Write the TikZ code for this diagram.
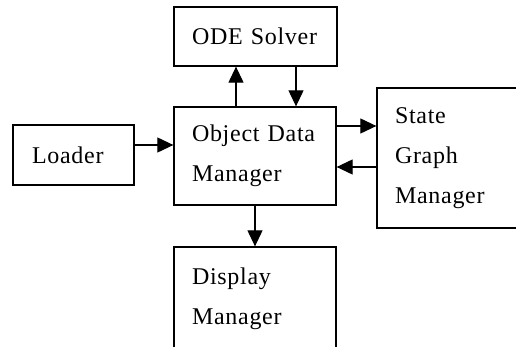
\documentclass[tikz,border=0pt]{standalone}
\usepackage{fontspec}
\setmainfont{Liberation Serif}[LetterSpace=3]
\usetikzlibrary{arrows.meta,calc}
\begin{document}
\begin{tikzpicture}[x=1pt,y=-1pt,
  box/.style={draw, line width=1.3pt, rectangle, inner xsep=18pt, inner ysep=0pt,
    align=left, font=\fontsize{24}{40}\selectfont},
  arr/.style={line width=1.1pt, -{Triangle[length=16pt,width=15pt]}}]
\useasboundingbox (0,0) rectangle (516,347);
\clip (0,0) rectangle (516,347);
\fill[white] (0,0) rectangle (516,347);
\node[box, minimum width=163pt, minimum height=59pt, text width=127pt] (ode) at (255.5,36.5) {ODE Solver};
\node[box, minimum width=162pt, minimum height=98pt, text width=126pt] (odm) at (255,156) {Object Data\\Manager};
\node[box, inner xsep=19pt, minimum width=121pt, minimum height=60pt, text width=83pt] (loader) at (73.5,155) {Loader};
\node[box, minimum width=163pt, minimum height=140pt, text width=127pt] (sgm) at (458.5,158) {State\\Graph\\Manager};
\node[box, minimum width=162pt, minimum height=104pt, text width=126pt] (disp) at (255,299) {Display\\Manager};
\draw[arr] ($(odm.north)+(-19,0)$) -- ($(ode.south)+(-19.5,0)$);
\draw[arr] ($(ode.south)+(40.5,0)$) -- ($(odm.north)+(41,0)$);
\draw[arr] ($(loader.east)+(0,-10)$) -- ($(odm.west)+(0,-11)$);
\draw[arr] ($(odm.east)+(0,-30)$) -- ($(sgm.west)+(0,-32)$);
\draw[arr] ($(sgm.west)+(0,9)$) -- ($(odm.east)+(0,11)$);
\draw[arr] (odm.south) -- (disp.north);
\end{tikzpicture}
\end{document}
